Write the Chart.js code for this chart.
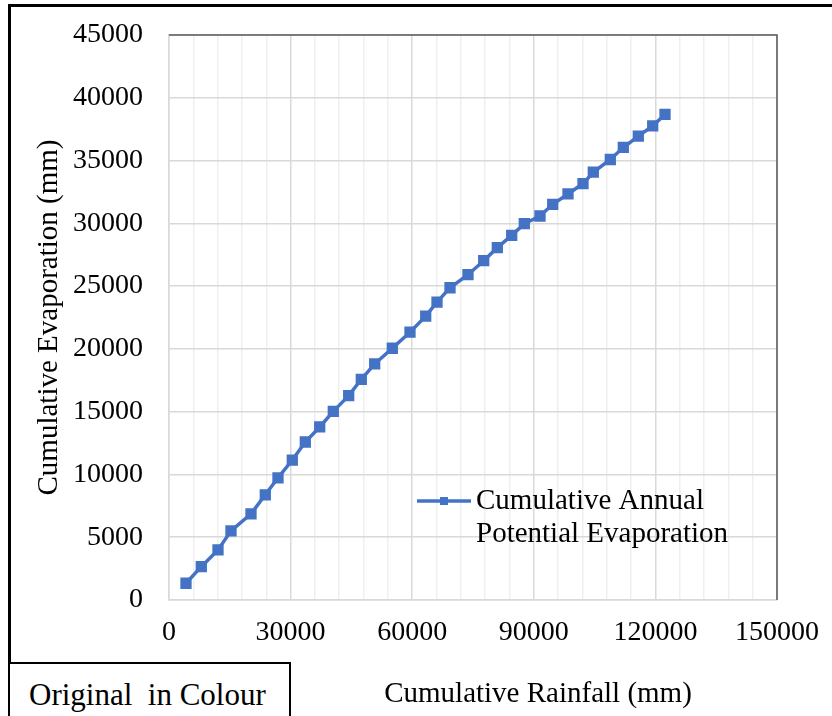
<!DOCTYPE html>
<html>
<head>
<meta charset="utf-8">
<script src="https://cdn.jsdelivr.net/npm/chart.js@4.4.1/dist/chart.umd.min.js"></script>
<style>
    body { margin: 0; background: #fff; }
    #wrap { position: relative; width: 832px; height: 716px; overflow: hidden; }
    #frame {
        position: absolute; left: 8px; top: 4px; width: 900px; height: 800px;
        border-left: 3px solid #000; border-top: 3px solid #000;
    }
    #stamp {
        position: absolute; left: 8px; top: 662px; width: 279px; height: 80px;
        border: 2px solid #000; background: #fff;
        font-family: "Liberation Serif", serif; font-size: 31px; color: #000;
    }
    #stamp span { position: absolute; left: 19px; top: 13px; white-space: pre; }
    canvas { position: absolute; left: 0; top: 0; }
</style>
</head>
<body>
<div id="wrap">
    <canvas id="evapChart" width="832" height="716"></canvas>
    <div id="frame"></div>
    <div id="stamp"><span>Original  in Colour</span></div>
</div>
<script>
// cumulative rainfall (mm) - x values
const rainfall = [4194, 7969, 12089, 15296, 20230, 23759, 26891, 30420, 33627, 37180,
    40535, 44334, 47443, 50748, 55090, 59457, 63331, 66119, 69327, 73767,
    77640, 80998, 84547, 87657, 91530, 94664, 98438, 102139, 104681, 108875,
    112082, 115785, 119335, 122369];
// cumulative annual potential evaporation (mm)
const evaporation = [1333, 2657, 3989, 5505, 6862, 8378, 9734, 11146, 12583, 13780,
    15024, 16277, 17578, 18806, 20051, 21328, 22605, 23722, 24870, 25907,
    27024, 28062, 29044, 29976, 30583, 31517, 32339, 33168, 34070, 35083,
    36041, 36943, 37765, 38674];

const xTicks = [0, 30000, 60000, 90000, 120000, 150000];
const yTicks = [0, 5000, 10000, 15000, 20000, 25000, 30000, 35000, 40000, 45000];

const seriesLabel = ["Cumulative Annual", "Potential Evaporation"];
const xTitle = "Cumulative Rainfall (mm)";
const yTitle = "Cumulative Evaporation (mm)";

const lineColour = "#4472C4";
const fontFamily = '"Liberation Serif", "Times New Roman", serif';

// top/right border of the plot, x title and legend
const extrasPlugin = {
    id: "extras",
    afterDraw(chart) {
        const ctx = chart.ctx;
        const area = chart.chartArea;
        ctx.save();

        ctx.strokeStyle = "#595959";
        ctx.lineWidth = 1.5;
        ctx.beginPath();
        ctx.moveTo(area.left, area.top);
        ctx.lineTo(area.right, area.top);
        ctx.lineTo(area.right, area.bottom);
        ctx.stroke();

        ctx.fillStyle = "#000";
        ctx.font = "29px " + fontFamily;
        ctx.textAlign = "center";
        ctx.textBaseline = "middle";
        ctx.fillText(xTitle, 538, 694);

        // legend
        const lx = 417, ly = 501;
        ctx.strokeStyle = lineColour;
        ctx.lineWidth = 3.5;
        ctx.beginPath();
        ctx.moveTo(lx, ly);
        ctx.lineTo(lx + 54, ly);
        ctx.stroke();
        ctx.fillStyle = lineColour;
        ctx.fillRect(lx + 27 - 4, ly - 4, 8, 8);

        ctx.fillStyle = "#000";
        ctx.textAlign = "left";
        seriesLabel.forEach((t, i) => ctx.fillText(t, 476, ly + i * 33));
        ctx.restore();
    }
};

const ctx = document.getElementById("evapChart").getContext("2d");
const chart = new Chart(ctx, {
    type: "scatter",
    data: {
        datasets: [{
            label: seriesLabel.join(" "),
            data: rainfall.map((x, i) => ({ x: x, y: evaporation[i] })),
            showLine: true,
            borderColor: lineColour,
            backgroundColor: lineColour,
            borderWidth: 3.5,
            pointStyle: "rect",
            pointRadius: 5.5,
            pointHoverRadius: 5.5
        }]
    },
    options: {
        responsive: false,
        animation: false,
        layout: { padding: { top: 35, right: 55, left: 0, bottom: 0 } },
        plugins: {
            legend: { display: false },
            tooltip: { enabled: false }
        },
        scales: {
            x: {
                type: "linear",
                min: xTicks[0],
                max: xTicks[xTicks.length - 1],
                afterFit: s => {
                    s.height = 116;
                    s.paddingLeft = 0;
                    s.paddingRight = 0;
                },
                ticks: {
                    stepSize: 6000,
                    autoSkip: false,
                    maxRotation: 0,
                    padding: 16,
                    color: "#000",
                    font: { family: fontFamily, size: 28 },
                    callback: v => xTicks.includes(v) ? String(v) : ""
                },
                grid: {
                    drawTicks: false,
                    color: c => xTicks.includes(c.tick.value) ? "#d9d9d9" : "#efefef",
                    lineWidth: 1.5
                },
                border: { color: "#d9d9d9", width: 1.5 }
            },
            y: {
                type: "linear",
                min: yTicks[0],
                max: yTicks[yTicks.length - 1],
                afterFit: s => {
                    s.width = 169;
                    s.paddingTop = 0;
                    s.paddingBottom = 0;
                },
                ticks: {
                    stepSize: 5000,
                    padding: 26,
                    color: "#000",
                    font: { family: fontFamily, size: 28 },
                    callback: v => String(v)
                },
                grid: { drawTicks: false, color: "#d9d9d9", lineWidth: 1.5 },
                border: { color: "#d9d9d9", width: 1.5 },
                title: {
                    display: true,
                    text: yTitle,
                    color: "#000",
                    font: { family: fontFamily, size: 29, lineHeight: 1 },
                    padding: { top: 35, bottom: 0 }
                }
            }
        }
    },
    plugins: [extrasPlugin]
});
</script>
</body>
</html>
